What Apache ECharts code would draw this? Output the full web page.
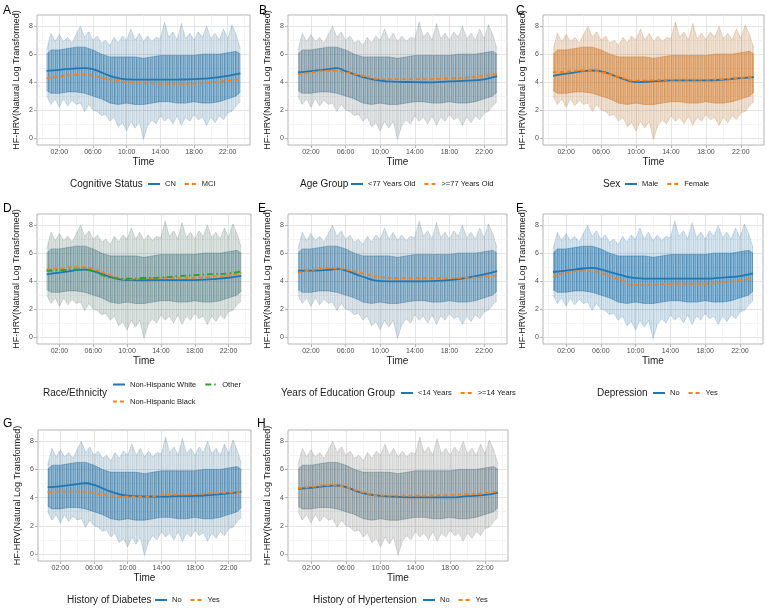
<!DOCTYPE html>
<html>
<head>
<meta charset="utf-8">
<title>HF-HRV over the day by group</title>
<script src="https://cdn.jsdelivr.net/npm/echarts@6/dist/echarts.min.js"></script>
<style>
  html, body { margin: 0; padding: 0; background: #fff; }
  #chart { width: 767px; height: 609px; }
</style>
</head>
<body>
<div id="chart"></div>
<script>
// hours of day (x), tick positions
const X_TICKS = [2, 6, 10, 14, 18, 22]
const X_MINOR = [0, 4, 8, 12, 16, 20, 24]
const Y_TICKS = [0, 2, 4, 6, 8]
const Y_MINOR = [1, 3, 5, 7]

// spread of the individual traces (same subjects in every panel)
const BAND_HOURS = [0.5, 1, 1.5, 2, 2.5, 3, 3.5, 4, 4.5, 5, 5.5, 6, 6.5, 7, 7.5, 8, 8.5, 9, 9.5, 10,
  10.5, 11, 11.5, 12, 12.5, 13, 13.5, 14, 14.5, 15, 15.5, 16, 16.5, 17, 17.5, 18, 18.5, 19, 19.5, 20,
  20.5, 21, 21.5, 22, 22.5, 23, 23.5]
const OUTER_HI = [6.3, 7.5, 6.9, 7.4, 6.9, 7.2, 6.8, 7.4, 8.0, 7.2, 7.6, 7.0, 7.3, 6.8, 7.0, 6.6, 7.2, 6.8, 7.3, 7.0,
  7.8, 7.0, 7.5, 6.9, 7.3, 6.9, 7.2, 7.1, 8.3, 7.2, 7.6, 7.0, 8.2, 7.1, 7.5, 7.0, 7.6, 7.2, 8.0, 7.1,
  7.5, 7.0, 7.8, 7.1, 8.1, 7.4, 6.4]
const OUTER_LO = [3.0, 2.4, 2.8, 2.2, 2.8, 2.3, 2.7, 2.4, 2.5, 1.9, 2.4, 2.0, 1.9, 1.6, 1.7, 1.2, 1.5, 0.8, 1.1, 0.5,
  1.2, 0.7, 1.2, -0.1, 0.9, 1.3, 1.0, 1.6, 1.2, 1.5, 1.0, 1.6, 0.9, 1.5, 1.2, 1.7, 1.3, 1.5, 0.9, 1.5,
  1.1, 1.6, 1.3, 1.8, 1.9, 2.3, 2.6]
const INNER_HOURS = [0.5, 1, 2, 3, 4, 5, 6, 7, 8, 9, 10, 11, 12, 13, 14, 15, 16, 17, 18, 19, 20, 21, 22, 23, 23.5]
const INNER_HI = [6.0, 6.3, 6.3, 6.4, 6.5, 6.5, 6.3, 6.0, 5.8, 5.8, 5.8, 5.8, 5.7, 5.8, 5.9, 5.9, 5.9, 5.9, 5.9, 6.0, 6.0, 6.0, 6.1, 6.2, 6.0]
const INNER_LO = [3.4, 3.2, 3.2, 3.3, 3.3, 3.2, 3.0, 2.8, 2.5, 2.4, 2.5, 2.4, 2.4, 2.5, 2.6, 2.6, 2.5, 2.5, 2.6, 2.5, 2.5, 2.6, 2.8, 3.0, 3.3]

// smoothed group means
const HOURS = [0.5, 2, 4, 5, 6, 8, 10, 12, 14, 16, 18, 20, 22, 23.5]
const A_CN = [4.80, 4.88, 4.98, 5.00, 4.92, 4.45, 4.20, 4.17, 4.17, 4.18, 4.21, 4.28, 4.45, 4.62]
const A_MCI = [4.26, 4.40, 4.52, 4.52, 4.45, 4.18, 4.00, 3.93, 3.89, 3.88, 3.89, 3.97, 4.10, 4.19]
const B_YOUNG = [4.69, 4.78, 4.93, 5.00, 4.78, 4.36, 4.10, 4.02, 4.00, 3.98, 4.05, 4.10, 4.20, 4.42]
const B_OLD = [4.57, 4.68, 4.81, 4.80, 4.69, 4.45, 4.22, 4.21, 4.21, 4.22, 4.26, 4.32, 4.45, 4.58]
const C_MALE = [4.45, 4.60, 4.78, 4.83, 4.76, 4.36, 4.00, 4.05, 4.12, 4.12, 4.12, 4.18, 4.29, 4.36]
const C_FEMALE = [4.69, 4.75, 4.83, 4.81, 4.71, 4.40, 4.10, 4.14, 4.17, 4.17, 4.17, 4.22, 4.31, 4.40]
const D_WHITE = [4.48, 4.60, 4.78, 4.83, 4.71, 4.31, 4.07, 4.06, 4.07, 4.07, 4.07, 4.14, 4.24, 4.38]
const D_BLACK = [4.83, 4.92, 5.00, 4.98, 4.88, 4.43, 4.12, 4.20, 4.24, 4.24, 4.24, 4.31, 4.40, 4.60]
const D_OTHER = [4.74, 4.78, 4.83, 4.80, 4.71, 4.26, 4.17, 4.22, 4.26, 4.35, 4.43, 4.50, 4.55, 4.69]
const E_LOW = [4.74, 4.75, 4.80, 4.88, 4.76, 4.31, 4.00, 3.98, 3.98, 4.00, 4.07, 4.24, 4.48, 4.71]
const E_HIGH = [4.60, 4.78, 4.93, 4.90, 4.83, 4.55, 4.29, 4.22, 4.21, 4.21, 4.21, 4.24, 4.29, 4.43]
const F_NO = [4.65, 4.75, 4.90, 4.95, 4.83, 4.48, 4.21, 4.17, 4.17, 4.17, 4.17, 4.25, 4.36, 4.55]
const F_YES = [4.31, 4.60, 4.71, 4.71, 4.60, 4.12, 3.71, 3.72, 3.81, 3.81, 3.81, 3.90, 4.05, 4.21]
const G_NO = [4.74, 4.80, 4.95, 5.02, 4.90, 4.43, 4.14, 4.08, 4.07, 4.10, 4.12, 4.20, 4.31, 4.43]
const G_YES = [4.40, 4.42, 4.43, 4.40, 4.31, 4.14, 4.07, 4.07, 4.17, 4.22, 4.26, 4.31, 4.36, 4.43]
const H_NO = [4.62, 4.70, 4.83, 4.86, 4.74, 4.31, 4.12, 4.05, 4.02, 4.02, 4.02, 4.10, 4.19, 4.36]
const H_YES = [4.67, 4.75, 4.88, 4.86, 4.74, 4.38, 4.14, 4.14, 4.14, 4.15, 4.19, 4.25, 4.31, 4.50]

const BLUE = '#1f77b4'
const ORANGE = '#ff7f0e'
const GREEN = '#2ca02c'
const DASHED = [4, 3]
const DOTDASH = [6, 3, 1.5, 3]
const FONT = '"Liberation Sans", Arial, Helvetica, sans-serif'
const X_MIN = -0.65, X_MAX = 24.65
const Y_MIN = -0.5, Y_MAX = 8.8

// fade = [outer band opacity, inner band opacity]; bands drawn faintest group first
const panels = [
  { tag: 'A', tagAt: [3, 5], rect: [37, 15, 213, 130], title: 'Cognitive Status', titleX: 70, legendX: 147, legendY: 184,
    groups: [
      { name: 'CN', values: A_CN, color: BLUE, dash: 'solid', fade: [0.3, 0.7] },
      { name: 'MCI', values: A_MCI, color: ORANGE, dash: DASHED, fade: [0.06, 0.1] }
    ] },
  { tag: 'B', tagAt: [259, 5], rect: [288, 15, 219, 130], title: 'Age Group', titleX: 300, legendX: 350, legendY: 184,
    groups: [
      { name: '<77 Years Old', values: B_YOUNG, color: BLUE, dash: 'solid', fade: [0.24, 0.52] },
      { name: '>=77 Years Old', values: B_OLD, color: ORANGE, dash: DASHED, fade: [0.14, 0.28] }
    ] },
  { tag: 'C', tagAt: [516, 5], rect: [543, 15, 221, 130], title: 'Sex', titleX: 603, legendX: 624, legendY: 184,
    groups: [
      { name: 'Male', values: C_MALE, color: BLUE, dash: 'solid', fade: [0.15, 0.32] },
      { name: 'Female', values: C_FEMALE, color: ORANGE, dash: DASHED, fade: [0.28, 0.6] }
    ] },
  { tag: 'D', tagAt: [3, 203], rect: [37, 214, 214, 130], title: 'Race/Ethnicity', titleX: 43, titleY: 393,
    legendX: 112, legendY: 384.5, legendRows: [['Non-Hispanic White', 'Other'], ['Non-Hispanic Black']], rowGap: 17,
    groups: [
      { name: 'Non-Hispanic White', values: D_WHITE, color: BLUE, dash: 'solid', fade: [0.22, 0.45] },
      { name: 'Non-Hispanic Black', values: D_BLACK, color: ORANGE, dash: DASHED, fade: [0.12, 0.22] },
      { name: 'Other', values: D_OTHER, color: GREEN, dash: DOTDASH, fade: [0.07, 0.12] }
    ] },
  { tag: 'E', tagAt: [258, 203], rect: [288, 214, 219, 130], title: 'Years of Education Group', titleX: 281, legendX: 400, legendY: 393,
    groups: [
      { name: '<14 Years', values: E_LOW, color: BLUE, dash: 'solid', fade: [0.28, 0.62] },
      { name: '>=14 Years', values: E_HIGH, color: ORANGE, dash: DASHED, fade: [0.09, 0.15] }
    ] },
  { tag: 'F', tagAt: [516, 203], rect: [543, 214, 220, 130], title: 'Depression', titleX: 597, legendX: 652, legendY: 393,
    groups: [
      { name: 'No', values: F_NO, color: BLUE, dash: 'solid', fade: [0.32, 0.75] },
      { name: 'Yes', values: F_YES, color: ORANGE, dash: DASHED, fade: [0.03, 0.05] }
    ] },
  { tag: 'G', tagAt: [3, 418], rect: [38, 430, 213, 131], title: 'History of Diabetes', titleX: 67, legendX: 154, legendY: 600,
    groups: [
      { name: 'No', values: G_NO, color: BLUE, dash: 'solid', fade: [0.3, 0.7] },
      { name: 'Yes', values: G_YES, color: ORANGE, dash: DASHED, fade: [0.07, 0.12] }
    ] },
  { tag: 'H', tagAt: [257, 418], rect: [288, 430, 220, 131], title: 'History of Hypertension', titleX: 313, legendX: 422, legendY: 600,
    groups: [
      { name: 'No', values: H_NO, color: BLUE, dash: 'solid', fade: [0.22, 0.46] },
      { name: 'Yes', values: H_YES, color: ORANGE, dash: DASHED, fade: [0.16, 0.34] }
    ] }
]

const hhmm = v => (v < 10 ? '0' : '') + v + ':00'

// soft vertical streaks so the spread reads like many overlapping traces
const patterns = {}
function streaks(color) {
  if (patterns[color]) return patterns[color]
  const shades = [0.85, 0.6, 0.75, 0.5, 0.9, 0.65, 0.55, 0.8, 0.6, 0.7, 0.5]
  const c = document.createElement('canvas')
  c.width = shades.length
  c.height = 16
  const ctx = c.getContext('2d')
  ctx.fillStyle = color
  shades.forEach((a, k) => {
    ctx.globalAlpha = a
    ctx.fillRect(k, 0, 1, 16)
  })
  patterns[color] = { image: c, repeat: 'repeat' }
  return patterns[color]
}

// low/high envelope drawn as one polygon through the axis scales
function band(ax, xs, lo, hi, color, alpha) {
  return {
    type: 'custom', xAxisIndex: ax, yAxisIndex: ax, silent: true, z: 1, clip: true,
    data: [[xs[0], lo[0]]],
    renderItem: (params, api) => {
      const top = xs.map((x, k) => api.coord([x, hi[k]]))
      const bottom = xs.map((x, k) => api.coord([x, lo[k]]))
      return {
        type: 'group',
        children: [
          { type: 'polygon', shape: { points: top.concat(bottom.slice().reverse()) },
            style: { fill: streaks(color), opacity: alpha } },
          { type: 'polyline', shape: { points: top }, style: { stroke: color, fill: null, lineWidth: 0.6, opacity: alpha } },
          { type: 'polyline', shape: { points: bottom }, style: { stroke: color, fill: null, lineWidth: 0.6, opacity: alpha } }
        ]
      }
    }
  }
}

const grid = [], xAxis = [], yAxis = [], series = [], legend = [], graphic = []

panels.forEach((p, i) => {
  const ax = i * 2
  grid.push({
    left: p.rect[0], top: p.rect[1], width: p.rect[2], height: p.rect[3],
    show: true, borderColor: '#b3b3b3', borderWidth: 1, backgroundColor: '#fff'
  })

  xAxis.push({
    gridIndex: i, type: 'value', min: X_MIN, max: X_MAX,
    axisLine: { show: false, onZero: false },
    axisTick: { show: true, customValues: X_TICKS, length: 3, lineStyle: { color: '#b3b3b3' } },
    axisLabel: { customValues: X_TICKS, formatter: hhmm, fontSize: 7, color: '#4d4d4d', margin: 4 },
    splitLine: { show: true, lineStyle: { color: '#dedede', width: 0.8 } },
    name: 'Time', nameLocation: 'middle', nameGap: 12,
    nameTextStyle: { fontSize: 10, color: '#1a1a1a' }
  }, {
    gridIndex: i, type: 'value', min: X_MIN, max: X_MAX,
    axisLine: { show: false, onZero: false },
    axisTick: { show: false, customValues: X_MINOR },
    axisLabel: { show: false },
    splitLine: { show: true, lineStyle: { color: '#efefef', width: 0.6 } }
  })

  yAxis.push({
    gridIndex: i, type: 'value', min: Y_MIN, max: Y_MAX,
    axisLine: { show: false, onZero: false },
    axisTick: { show: true, customValues: Y_TICKS, length: 3, lineStyle: { color: '#b3b3b3' } },
    axisLabel: { customValues: Y_TICKS, fontSize: 7, color: '#4d4d4d', margin: 4 },
    splitLine: { show: true, lineStyle: { color: '#dedede', width: 0.8 } },
    name: 'HF-HRV(Natural Log Transformed)', nameLocation: 'middle', nameGap: 16, nameRotate: 90,
    nameTextStyle: { fontSize: 9, color: '#1a1a1a' }
  }, {
    gridIndex: i, type: 'value', min: Y_MIN, max: Y_MAX,
    axisLine: { show: false, onZero: false },
    axisTick: { show: false, customValues: Y_MINOR },
    axisLabel: { show: false },
    splitLine: { show: true, lineStyle: { color: '#efefef', width: 0.6 } }
  })

  // individual-trace spread first (faintest group underneath), group means on top
  p.groups.slice().sort((a, b) => a.fade[1] - b.fade[1]).forEach(g => {
    series.push(band(ax, BAND_HOURS, OUTER_LO, OUTER_HI, g.color, g.fade[0]))
    series.push(band(ax, INNER_HOURS, INNER_LO, INNER_HI, g.color, g.fade[1]))
  })
  p.groups.forEach(g => {
    series.push({
      type: 'line', name: g.name, xAxisIndex: ax, yAxisIndex: ax,
      data: HOURS.map((h, k) => [h, g.values[k]]),
      smooth: 0.5, symbol: 'none', z: 3,
      itemStyle: { color: g.color },
      lineStyle: { color: g.color, width: 1.8, type: g.dash }
    })
  })

  const rows = p.legendRows || [p.groups.map(g => g.name)]
  rows.forEach((names, r) => {
    legend.push({
      left: p.legendX, top: p.legendY - 5 + r * (p.rowGap || 0), padding: 0,
      itemWidth: 12, itemHeight: 8, itemGap: 8, selectedMode: false,
      itemStyle: { opacity: 0 },
      textStyle: { fontSize: 7.5, color: '#1a1a1a', lineHeight: 10 },
      data: names
    })
  })

  graphic.push({
    type: 'text', x: p.tagAt[0], y: p.tagAt[1],
    style: { text: p.tag, fontSize: 12, fill: '#000', fontFamily: FONT }
  }, {
    type: 'text', x: p.titleX, y: p.titleY || p.legendY,
    style: { text: p.title, fontSize: 10, fill: '#1a1a1a', fontFamily: FONT, verticalAlign: 'middle', align: 'left' }
  })
})

const chart = echarts.init(document.getElementById('chart'))
chart.setOption({
  animation: false,
  backgroundColor: '#fff',
  textStyle: { fontFamily: FONT },
  grid: grid,
  xAxis: xAxis,
  yAxis: yAxis,
  legend: legend,
  graphic: graphic,
  series: series
})
</script>
</body>
</html>
